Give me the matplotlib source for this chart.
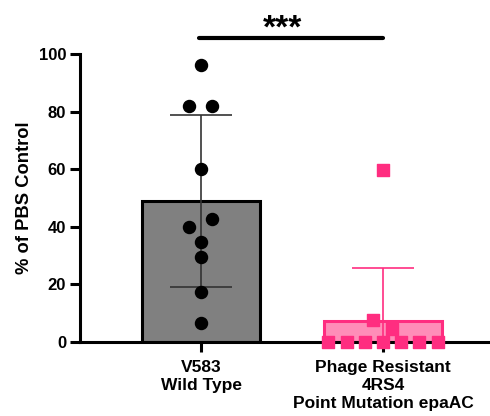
import matplotlib.pyplot as plt
import numpy as np

plt.rcParams['font.family'] = ['Liberation Sans', 'DejaVu Sans']
plt.rcParams['font.weight'] = 'bold'

# Data
groups = ["V583\nWild Type", "Phage Resistant\n4RS4\nPoint Mutation epaAC"]
wt_values = [96.2, 82.0, 82.0, 60.1, 42.7, 40.0, 34.7, 29.5, 17.4, 6.6]
mut_values = [59.7, 7.6, 4.5, 0, 0, 0, 0, 0, 0, 0]
significance = "***"

# horizontal scatter offsets (layout only)
wt_jitter = [0, -0.066, 0.06, 0, 0.06, -0.066, 0, 0, 0, 0]
mut_jitter = [0, -0.055, 0.05, -0.3, -0.2, -0.1, 0, 0.1, 0.2, 0.3]

gray = "#808080"
pink_fill = "#FF8DB8"
pink = "#FF2D80"

fig = plt.figure(figsize=(4.9, 4.16), dpi=100)
ax = fig.add_axes([0.1633, 0.178, 0.8367, 0.692])

x = np.arange(len(groups))
means = [np.mean(wt_values), np.mean(mut_values)]
sds = [np.std(wt_values, ddof=1), np.std(mut_values, ddof=1)]

ax.bar(x[0], means[0], width=0.65, color=gray, edgecolor="black", linewidth=2.2, zorder=2)
ax.bar(x[1], means[1], width=0.65, color=pink_fill, edgecolor=pink, linewidth=2.2, zorder=2)

ax.errorbar(x[0], means[0], yerr=sds[0], fmt="none", ecolor="#333333", elinewidth=1.2,
            capsize=22, capthick=1.2, zorder=3)
ax.errorbar(x[1], means[1], yerr=sds[1], fmt="none", ecolor=pink, elinewidth=1.2,
            capsize=22, capthick=1.2, zorder=3)

ax.scatter(x[0] + np.array(wt_jitter), wt_values, s=75, marker="o", color="black",
           zorder=4, clip_on=False)
ax.scatter(x[1] + np.array(mut_jitter), mut_values, s=65, marker="s", color=pink,
           zorder=4, clip_on=False)

# significance bracket
ax.plot([x[0] - 0.01, x[1]], [105.6, 105.6], color="black", lw=3, clip_on=False,
        solid_capstyle="round")
ax.text((x[0] + x[1]) / 2 - 0.05, 105.6, significance, ha="center", va="baseline",
        fontsize=24, fontweight="bold", clip_on=False)

ax.set_xlim(-0.665, 1.588)
ax.set_ylim(0, 100)
ax.set_yticks([0, 20, 40, 60, 80, 100])
ax.set_xticks(x)
ax.set_xticklabels(groups, fontsize=12.5, fontweight="bold", linespacing=1.25)
ax.set_ylabel("% of PBS Control", fontsize=13.2, fontweight="bold", labelpad=4)
ax.tick_params(axis="y", labelsize=12, width=2.2, length=7, pad=3)
ax.tick_params(axis="x", width=2.2, length=7, pad=6)
for lbl in ax.get_yticklabels():
    lbl.set_fontweight("bold")

ax.spines["top"].set_visible(False)
ax.spines["right"].set_visible(False)
ax.spines["left"].set_linewidth(2.2)
ax.spines["bottom"].set_linewidth(2.2)

fig.savefig("out.png", dpi=100)
